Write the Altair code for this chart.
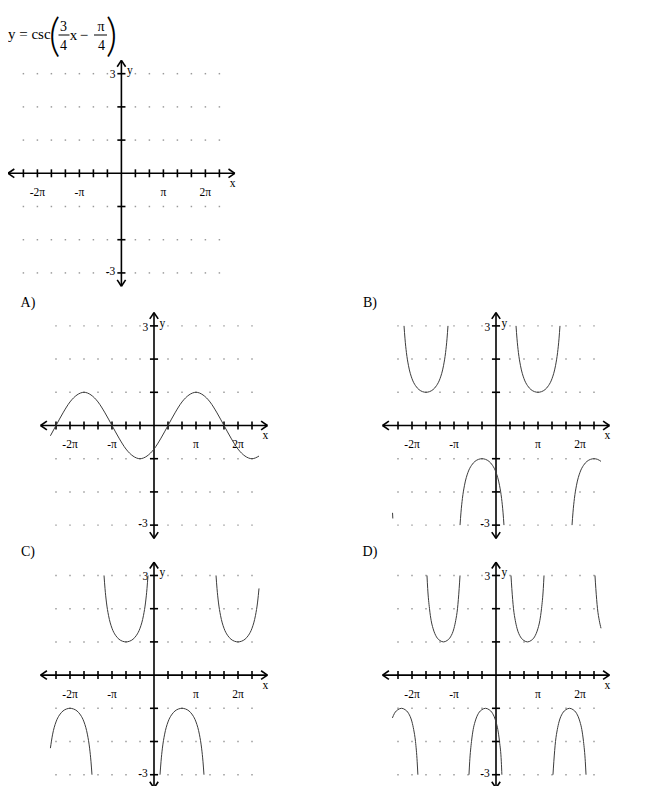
import altair as alt
import pandas as pd

# ---------------- axis / grid settings (x in units of pi/3) ----------------
X_MIN, X_MAX = -8.1, 8.1
Y_MIN, Y_MAX = -3.4, 3.4
GRID_X = [-7, -6, -5, -4, -3, -2, -1, 1, 2, 3, 4, 5, 6, 7]
GRID_Y = [-3, -2, -1, 1, 2, 3]
TICK_LABEL_POS = [-6, -3, 3, 6]
TICK_LABEL_TEXT = ["-2π", "-π", "π", "2π"]

# ---------------- curve values ----------------
A_X = [-7.4, -7, -6.5, -6, -5.5, -5, -4.5, -4, -3.5, -3, -2.5, -2, -1.5, -1, -0.5, 0,
       0.5, 1, 1.5, 2, 2.5, 3, 3.5, 4, 4.5, 5, 5.5, 6, 6.5, 7, 7.5]
A_Y = [-0.31, 0, 0.38, 0.71, 0.92, 1, 0.92, 0.71, 0.38, 0, -0.38, -0.71, -0.92, -1, -0.92, -0.71,
       -0.38, 0, 0.38, 0.71, 0.92, 1, 0.92, 0.71, 0.38, 0, -0.38, -0.71, -0.92, -1, -0.92]

B1_X = [-7.39, -7.37]
B1_Y = [-2.63, -2.8]
B2_X = [-6.57, -6.5, -6.4, -6.25, -6, -5.75, -5.5, -5.25, -5, -4.75, -4.5, -4.25, -4, -3.75, -3.6, -3.5, -3.43]
B2_Y = [3, 2.61, 2.2, 1.8, 1.41, 1.2, 1.08, 1.02, 1, 1.02, 1.08, 1.2, 1.41, 1.8, 2.2, 2.61, 3]
B3_X = [-2.57, -2.5, -2.4, -2.25, -2, -1.75, -1.5, -1.25, -1, -0.75, -0.5, -0.25, 0, 0.25, 0.4, 0.5, 0.57]
B3_Y = [-3, -2.61, -2.2, -1.8, -1.41, -1.2, -1.08, -1.02, -1, -1.02, -1.08, -1.2, -1.41, -1.8, -2.2, -2.61, -3]
B4_X = [1.43, 1.5, 1.6, 1.75, 2, 2.25, 2.5, 2.75, 3, 3.25, 3.5, 3.75, 4, 4.25, 4.4, 4.5, 4.57]
B4_Y = [3, 2.61, 2.2, 1.8, 1.41, 1.2, 1.08, 1.02, 1, 1.02, 1.08, 1.2, 1.41, 1.8, 2.2, 2.61, 3]
B5_X = [5.43, 5.5, 5.6, 5.75, 6, 6.25, 6.5, 6.75, 7, 7.25, 7.5]
B5_Y = [-3, -2.61, -2.2, -1.8, -1.41, -1.2, -1.08, -1.02, -1, -1.02, -1.08]

C1_X = [-7.4, -7.25, -7, -6.75, -6.5, -6.25, -6, -5.75, -5.5, -5.25, -5, -4.75, -4.6, -4.5, -4.43]
C1_Y = [-2.2, -1.8, -1.41, -1.2, -1.08, -1.02, -1, -1.02, -1.08, -1.2, -1.41, -1.8, -2.2, -2.61, -3]
C2_X = [-3.57, -3.5, -3.4, -3.25, -3, -2.75, -2.5, -2.25, -2, -1.75, -1.5, -1.25, -1, -0.75, -0.6, -0.5, -0.43]
C2_Y = [3, 2.61, 2.2, 1.8, 1.41, 1.2, 1.08, 1.02, 1, 1.02, 1.08, 1.2, 1.41, 1.8, 2.2, 2.61, 3]
C3_X = [0.43, 0.5, 0.6, 0.75, 1, 1.25, 1.5, 1.75, 2, 2.25, 2.5, 2.75, 3, 3.25, 3.4, 3.5, 3.57]
C3_Y = [-3, -2.61, -2.2, -1.8, -1.41, -1.2, -1.08, -1.02, -1, -1.02, -1.08, -1.2, -1.41, -1.8, -2.2, -2.61, -3]
C4_X = [4.43, 4.5, 4.6, 4.75, 5, 5.25, 5.5, 5.75, 6, 6.25, 6.5, 6.75, 7, 7.25, 7.4, 7.5]
C4_Y = [3, 2.61, 2.2, 1.8, 1.41, 1.2, 1.08, 1.02, 1, 1.02, 1.08, 1.2, 1.41, 1.8, 2.2, 2.61]

D1_X = [-7.4, -7.25, -7, -6.75, -6.5, -6.25, -6, -5.88, -5.75, -5.63, -5.58]
D1_Y = [-1.29, -1.15, -1.04, -1, -1.04, -1.15, -1.41, -1.64, -2, -2.61, -3]
D2_X = [-4.93, -4.88, -4.75, -4.63, -4.5, -4.25, -4, -3.75, -3.5, -3.25, -3, -2.88, -2.75, -2.63, -2.57]
D2_Y = [3, 2.61, 2, 1.64, 1.41, 1.15, 1.04, 1, 1.04, 1.15, 1.41, 1.64, 2, 2.61, 3]
D3_X = [-1.93, -1.88, -1.75, -1.63, -1.5, -1.25, -1, -0.75, -0.5, -0.25, 0, 0.13, 0.25, 0.38, 0.42]
D3_Y = [-3, -2.61, -2, -1.64, -1.41, -1.15, -1.04, -1, -1.04, -1.15, -1.41, -1.64, -2, -2.61, -3]
D4_X = [1.07, 1.13, 1.25, 1.38, 1.5, 1.75, 2, 2.25, 2.5, 2.75, 3, 3.13, 3.25, 3.38, 3.43]
D4_Y = [3, 2.61, 2, 1.64, 1.41, 1.15, 1.04, 1, 1.04, 1.15, 1.41, 1.64, 2, 2.61, 3]
D5_X = [4.07, 4.13, 4.25, 4.38, 4.5, 4.75, 5, 5.25, 5.5, 5.75, 6, 6.13, 6.25, 6.38, 6.43]
D5_Y = [-3, -2.61, -2, -1.64, -1.41, -1.15, -1.04, -1, -1.04, -1.15, -1.41, -1.64, -2, -2.61, -3]
D6_X = [7.07, 7.13, 7.25, 7.38, 7.5]
D6_Y = [3, 2.61, 2, 1.64, 1.41]

CURVES = {
    "A": [(A_X, A_Y)],
    "B": [(B1_X, B1_Y), (B2_X, B2_Y), (B3_X, B3_Y), (B4_X, B4_Y), (B5_X, B5_Y)],
    "C": [(C1_X, C1_Y), (C2_X, C2_Y), (C3_X, C3_Y), (C4_X, C4_Y)],
    "D": [(D1_X, D1_Y), (D2_X, D2_Y), (D3_X, D3_Y), (D4_X, D4_Y), (D5_X, D5_Y), (D6_X, D6_Y)],
}

SERIF = "Liberation Serif"

# ---------------- shared tables ----------------
grid_df = pd.DataFrame([{"x": gx, "y": gy} for gx in GRID_X for gy in GRID_Y])

AX, AY = 0.45, 0.13   # arrow arm lengths (x ticks, y units) for x-axis arrows
BX, BY = 0.3, 0.19    # for y-axis arrows
seg_rows = [
    (X_MIN, 0, X_MAX, 0), (0, Y_MIN, 0, Y_MAX),
    (X_MIN, 0, X_MIN + AX, AY), (X_MIN, 0, X_MIN + AX, -AY),
    (X_MAX, 0, X_MAX - AX, AY), (X_MAX, 0, X_MAX - AX, -AY),
    (0, Y_MAX, BX, Y_MAX - BY), (0, Y_MAX, -BX, Y_MAX - BY),
    (0, Y_MIN, BX, Y_MIN + BY), (0, Y_MIN, -BX, Y_MIN + BY),
]
seg_rows += [(gx, -0.12, gx, 0.12) for gx in GRID_X]
seg_rows += [(-0.29, gy, 0.29, gy) for gy in GRID_Y]
seg_df = pd.DataFrame(seg_rows, columns=["x", "y", "x2", "y2"])

label_rows = [{"x": p, "y": -0.6, "t": t} for p, t in zip(TICK_LABEL_POS, TICK_LABEL_TEXT)]
label_rows += [
    {"x": 7.95, "y": -0.33, "t": "x"},
    {"x": 0.6, "y": 3.07, "t": "y"},
    {"x": -0.62, "y": 2.95, "t": "3"},
    {"x": -0.78, "y": -2.98, "t": "-3"},
]
label_df = pd.DataFrame(label_rows)


def panel(key, xr, yr, tag=None):
    xs = alt.Scale(domain=[X_MIN, X_MAX], range=xr, nice=False, zero=False)
    ys = alt.Scale(domain=[Y_MIN, Y_MAX], range=yr, nice=False, zero=False)
    ex = alt.X("x:Q", scale=xs, axis=None)
    ey = alt.Y("y:Q", scale=ys, axis=None)
    layers = [
        alt.Chart(grid_df).mark_square(size=2.2, color="#9a9a9a", opacity=1).encode(x=ex, y=ey),
        alt.Chart(seg_df).mark_rule(color="black", strokeWidth=1.6).encode(
            x=ex, y=ey, x2="x2:Q", y2="y2:Q"),
        alt.Chart(label_df).mark_text(font=SERIF, fontSize=11.5, color="black",
                                      align="center", baseline="middle").encode(x=ex, y=ey, text="t:N"),
    ]
    if key in CURVES:
        rows = []
        for i, (cx, cy) in enumerate(CURVES[key]):
            rows += [{"x": a, "y": b, "br": i} for a, b in zip(cx, cy)]
        cdf = pd.DataFrame(rows)
        layers.append(
            alt.Chart(cdf).mark_line(color="#3c3c3c", strokeWidth=1, interpolate="monotone").encode(
                x=ex, y=ey, detail="br:N", order="x:Q")
        )
    if tag:
        tdf = pd.DataFrame([{"x": -9.0, "y": 3.7, "t": tag}])
        layers.append(
            alt.Chart(tdf).mark_text(font=SERIF, fontSize=14, color="black",
                                     align="center", baseline="middle").encode(x=ex, y=ey, text="t:N")
        )
    return alt.layer(*layers)


# panel placements (plot-area pixel ranges)
top = panel("Q", [0, 226.8], [278.2, 52.4])
pA = panel("A", [32.6, 259.4], [530.4, 304.6], "A)")
pB = panel("B", [374.6, 601.4], [530.4, 304.6], "B)")
pC = panel("C", [32.6, 259.4], [780.0, 554.2], "C)")
pD = panel("D", [374.6, 601.4], [780.0, 554.2], "D)")

# ---------------- title formula y = csc(3/4 x - pi/4) ----------------
title_txt = pd.DataFrame([
    {"px": 0, "py": 26, "t": "y = csc", "fs": 15},
    {"px": 55.5, "py": 18.5, "t": "3", "fs": 14},
    {"px": 55.5, "py": 37.5, "t": "4", "fs": 14},
    {"px": 65.5, "py": 26.5, "t": "x", "fs": 15},
    {"px": 76, "py": 26.5, "t": "−", "fs": 15},
    {"px": 93, "py": 18.5, "t": "π", "fs": 14},
    {"px": 93.5, "py": 37.5, "t": "4", "fs": 14},
])
title_paren = pd.DataFrame([
    {"px": 46.5, "py": 29, "t": "("},
    {"px": 103.5, "py": 29, "t": ")"},
])
title_lines = pd.DataFrame([
    {"px": 50.5, "px2": 61.5, "py": 27},
    {"px": 86, "px2": 99, "py": 27},
])
title_left = title_txt.iloc[:1]
title_mid = title_txt.iloc[1:]
PX = lambda: alt.X("px:Q", scale=None, axis=None)
PY = lambda: alt.Y("py:Q", scale=None, axis=None)
tl = alt.Chart(title_left).mark_text(font=SERIF, color="black", align="left", baseline="middle").encode(
    x=PX(), y=PY(), text="t:N", size=alt.Size("fs:Q", scale=None, legend=None))
tm = alt.Chart(title_mid).mark_text(font=SERIF, color="black", align="center", baseline="middle").encode(
    x=PX(), y=PY(), text="t:N", size=alt.Size("fs:Q", scale=None, legend=None))
tp = alt.Chart(title_paren).mark_text(font="Lato", fontWeight=300, fontSize=45, color="black",
                                      align="center", baseline="middle").encode(x=PX(), y=PY(), text="t:N")
tr = alt.Chart(title_lines).mark_rule(color="black", strokeWidth=1).encode(
    x=PX(), x2="px2:Q", y=PY())
title = alt.layer(tl, tm, tp, tr)

chart = alt.layer(top, pA, pB, pC, pD, title).resolve_scale(
    x="independent", y="independent", size="independent"
).properties(
    width=634, height=778, padding=0, autosize=alt.AutoSizeParams(type="none")
).configure_view(strokeWidth=0)

chart.save("out.html", embed_options={"renderer": "svg", "actions": False})
